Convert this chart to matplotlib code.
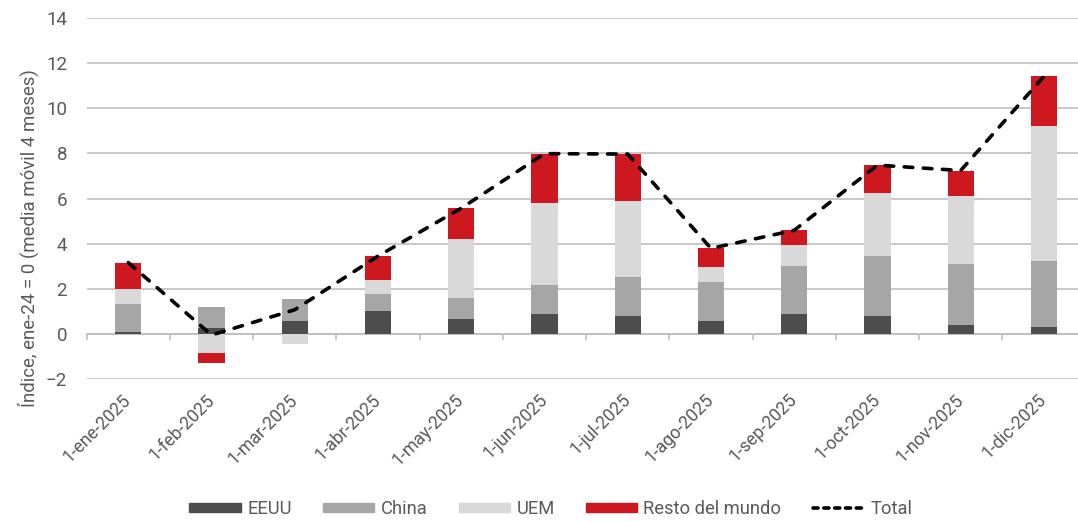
import numpy as np
import matplotlib.pyplot as plt
from matplotlib.patches import Patch
from matplotlib.lines import Line2D

plt.rcParams['font.family'] = ['Roboto', 'DejaVu Sans']

# Contribuciones por zona (índice, ene-24 = 0, media móvil 4 meses)
fechas = ['1-ene-2025', '1-feb-2025', '1-mar-2025', '1-abr-2025',
          '1-may-2025', '1-jun-2025', '1-jul-2025', '1-ago-2025',
          '1-sep-2025', '1-oct-2025', '1-nov-2025', '1-dic-2025']
eeuu = [0.10, 0.27, 0.56, 1.00, 0.68, 0.87, 0.81, 0.55, 0.86, 0.81, 0.41, 0.30]
china = [1.23, 0.92, 0.97, 0.76, 0.89, 1.31, 1.71, 1.75, 2.13, 2.63, 2.69, 2.91]
uem = [0.66, -0.83, -0.46, 0.63, 2.62, 3.63, 3.39, 0.66, 0.94, 2.81, 2.99, 6.00]
resto = [1.17, -0.47, 0.02, 1.06, 1.38, 2.18, 2.06, 0.83, 0.66, 1.23, 1.15, 2.20]
total = [3.16, -0.05, 1.07, 3.45, 5.57, 7.99, 7.97, 3.79, 4.59, 7.48, 7.24, 11.41]

series = [('EEUU', eeuu, '#4d4d4d'),
          ('China', china, '#a6a6a6'),
          ('UEM', uem, '#d9d9d9'),
          ('Resto del mundo', resto, '#cc181e')]

gris_texto = '#595959'
gris_linea = '#bfbfbf'

fig = plt.figure(figsize=(10.78, 5.22), dpi=100)
ax = fig.add_axes([0.0804, 0.2739, 0.9266, 0.6916])

x = np.arange(len(fechas))
pos_base = np.zeros(len(fechas))
neg_base = np.zeros(len(fechas))
for nombre, valores, color in series:
    v = np.array(valores)
    base = np.where(v >= 0, pos_base, neg_base)
    ax.bar(x, v, bottom=base, width=0.315, color=color, zorder=2)
    pos_base += np.where(v >= 0, v, 0)
    neg_base += np.where(v < 0, v, 0)

ax.plot(x, total, color='black', lw=2.6, dashes=(2.4, 2.9),
        dash_capstyle='round', zorder=3)

ax.set_xlim(-0.5, len(fechas) - 0.5)
ax.set_ylim(-2, 14)
ax.set_yticks(np.arange(-2, 15, 2))
ax.yaxis.grid(True, color=gris_linea, lw=1.2, zorder=0)
ax.set_axisbelow(True)
for s in ax.spines.values():
    s.set_visible(False)

ax.tick_params(axis='y', length=0, pad=14, labelsize=13.5, labelcolor=gris_texto)
ax.set_xticks(x)
ax.set_xticklabels(fechas, rotation=45, ha='right', va='center',
                   rotation_mode='anchor', fontsize=12.7, color=gris_texto)
ax.tick_params(axis='x', length=0, pad=13)

# eje horizontal en cero con marcas entre categorías
eje0 = ax.secondary_xaxis(2 / 16)
eje0.set_xticks(np.arange(-0.5, len(fechas), 1.0))
eje0.set_xticklabels([])
eje0.tick_params(length=4, color=gris_linea, width=1.2)
eje0.spines['bottom'].set_color(gris_linea)
eje0.spines['bottom'].set_linewidth(1.2)

fig.text(0.026, 1 - 238 / 522, 'Índice, ene-24 = 0 (media móvil 4 meses)',
         rotation=90, ha='center', va='center', fontsize=13.4, color=gris_texto)

handles = [Patch(color=c, label=n) for n, _, c in series]
handles.append(Line2D([], [], color='black', lw=2.6, dashes=(1.4, 1.6),
                      dash_capstyle='round', label='Total'))
fig.legend(handles=handles, loc='center', bbox_to_anchor=(0.511, 1 - 509 / 522),
           ncol=5, frameon=False, fontsize=13.2, labelcolor=gris_texto,
           handlelength=2.8, handleheight=0.4, handletextpad=0.35,
           columnspacing=1.7)

fig.savefig('out.png', dpi=100)
